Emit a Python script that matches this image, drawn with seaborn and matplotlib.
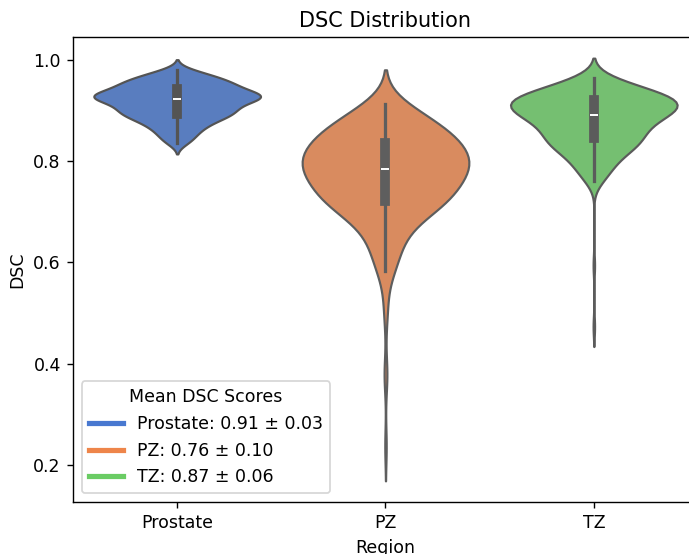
import numpy as np
import pandas as pd
import matplotlib.pyplot as plt
import seaborn as sns
from matplotlib.lines import Line2D

# -----------------------------
# Data
# -----------------------------
regions = ["Prostate", "PZ", "TZ"]
mean_scores = [0.91, 0.76, 0.87]
std_scores = [0.03, 0.10, 0.06]

# every core value stands for this many cases, outliers are single cases
cases_per_value = 5

prostate_dsc = [
    0.835, 0.843, 0.850, 0.856, 0.861, 0.866, 0.870, 0.874, 0.877, 0.880,
    0.883, 0.886, 0.888, 0.890, 0.892, 0.894, 0.896, 0.898, 0.900, 0.902,
    0.904, 0.906, 0.908, 0.910, 0.912, 0.914, 0.916, 0.918, 0.919, 0.921,
    0.922, 0.924, 0.925, 0.926, 0.927, 0.928,
    0.929, 0.930, 0.931, 0.933, 0.934, 0.936, 0.937, 0.939, 0.941, 0.943,
    0.945, 0.947, 0.949, 0.951, 0.953, 0.955, 0.957, 0.959, 0.961, 0.964,
    0.967, 0.970, 0.974, 0.979,
]
prostate_outliers = []

pz_dsc = [
    0.583, 0.607, 0.628, 0.646, 0.661, 0.674, 0.685, 0.694,
    0.701, 0.707, 0.712, 0.715, 0.717,
    0.721, 0.726, 0.731, 0.736, 0.741, 0.745, 0.749, 0.753, 0.757, 0.761,
    0.765, 0.769, 0.773, 0.777, 0.781,
    0.784, 0.787, 0.790, 0.793, 0.796, 0.799, 0.802, 0.805, 0.809, 0.813,
    0.817, 0.820, 0.824, 0.828, 0.831,
    0.835, 0.839, 0.843, 0.847, 0.851, 0.855, 0.859, 0.864, 0.869, 0.874,
    0.880, 0.886, 0.893, 0.901, 0.912,
]
pz_outliers = [0.237, 0.372, 0.386, 0.490, 0.515, 0.540]

tz_dsc = [
    0.761, 0.775, 0.785, 0.794, 0.802, 0.809, 0.815, 0.820, 0.825, 0.829,
    0.833, 0.836, 0.839,
    0.842, 0.846, 0.850, 0.854, 0.857, 0.861, 0.864, 0.867, 0.871, 0.874,
    0.877, 0.880, 0.883, 0.886, 0.889,
    0.891, 0.893, 0.895, 0.897, 0.899, 0.901, 0.903, 0.905, 0.907, 0.909,
    0.911, 0.913, 0.915, 0.917, 0.918,
    0.920, 0.922, 0.924, 0.926, 0.928, 0.930, 0.932, 0.934, 0.937, 0.940,
    0.943, 0.947, 0.951, 0.957, 0.964,
]
tz_outliers = [0.473, 0.594]

# KDE bandwidth (in DSC units) of each violin
kde_bw = [0.0105, 0.034, 0.0195]

samples = {
    "Prostate": prostate_dsc * cases_per_value + prostate_outliers,
    "PZ": pz_dsc * cases_per_value + pz_outliers,
    "TZ": tz_dsc * cases_per_value + tz_outliers,
}
df = pd.DataFrame(
    [(r, v) for r in regions for v in samples[r]], columns=["Region", "DSC"]
)

colors = sns.color_palette("muted", len(regions))

# -----------------------------
# Violin plot
# -----------------------------
dpi = 125
fig = plt.figure(figsize=(689 / dpi, 554 / dpi), dpi=dpi)
ax = fig.add_axes([73 / 689, 1 - 502 / 554, (698 - 73) / 689, (502 - 37) / 554])

for region, bw, color in zip(regions, kde_bw, colors):
    sub = df[df["Region"] == region]
    sns.violinplot(
        data=sub, x="Region", y="DSC", order=regions, color=color,
        bw_method=bw / np.std(sub["DSC"], ddof=1), ax=ax,
    )

ax.set_title("DSC Distribution")
ax.set_xlabel("Region")
ax.set_ylabel("DSC")

handles = [
    Line2D([0], [0], color=c, lw=3, label=f"{r}: {m:.2f} \u00b1 {s:.2f}")
    for r, m, s, c in zip(regions, mean_scores, std_scores, colors)
]
ax.legend(handles=handles, title="Mean DSC Scores", loc="lower left")

fig.savefig("out.png", dpi=dpi)
